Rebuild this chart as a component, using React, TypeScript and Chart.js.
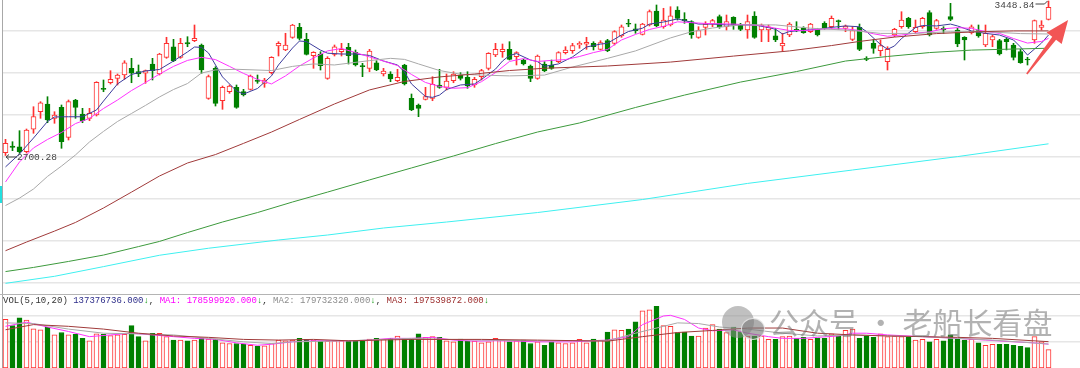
import React, { useEffect, useRef } from "react";
import { Chart, registerables } from "chart.js";

Chart.register(...registerables);

// ---------------- data ----------------
const openPrice = [
  2713.9, 2746.3, 2742.9, 2718.7, 2827.3, 2912.5, 2949.8, 2880.5, 2933.8, 2788.5,
  2969.2, 2901.4, 2880.5, 2896.5, 3025.9, 3053.0, 3074.3, 3090.3, 3122.8, 3106.3,
  3098.6, 3143.6, 3095.2, 3176.1, 3227.4, 3176.1, 3246.8, 3256.5, 3235.7, 2977.4,
  3122.8, 2965.8, 3009.4, 3030.7, 3009.4, 3021.0, 3066.1, 3050.1, 3101.5, 3230.8,
  3211.5, 3273.0, 3321.4, 3263.3, 3183.8, 3192.1, 3074.3, 3190.6, 3203.2, 3224.5,
  3200.3, 3135.4, 3122.8, 3149.9, 3095.2, 3095.2, 3062.7, 3138.8, 2977.4, 2945.0,
  2972.6, 2977.4, 3041.9, 3030.7, 3062.7, 3090.3, 3079.2, 3041.9, 3082.1, 3122.8,
  3187.2, 3203.2, 3214.8, 3179.0, 3163.0, 3133.9, 3074.3, 3143.6, 3138.8, 3154.8,
  3198.4, 3208.1, 3235.7, 3239.1, 3243.9, 3214.8, 3256.5, 3243.9, 3279.3, 3340.8,
  3314.6, 3287.5, 3332.6, 3400.4, 3324.3, 3332.6, 3405.3, 3360.2, 3348.6, 3273.0,
  3321.4, 3337.4, 3372.8, 3324.3, 3369.9, 3332.6, 3308.4, 3376.2, 3308.4, 3308.4,
  3280.7, 3230.8, 3284.1, 3311.7, 3316.6, 3300.1, 3311.7, 3340.8, 3324.3, 3353.4,
  3316.6, 3263.3, 3321.4, 3171.2, 3243.9, 3208.1, 3154.8, 3284.1, 3324.3, 3365.0,
  3300.1, 3324.3, 3392.2, 3316.6, 3316.6, 3372.8, 3308.4, 3273.0, 3295.3, 3305.0,
  3235.7, 3259.9, 3256.5, 3263.3, 3235.7, 3203.2, 3166.4, 3259.9, 3321.4, 3360.2,
];
const highPrice = [
  2778.8, 2767.2, 2820.5, 2828.7, 2936.7, 2961.0, 2985.2, 2912.5, 2945.0, 2969.2,
  2972.6, 2929.0, 2929.0, 3057.9, 3066.1, 3111.2, 3095.2, 3159.6, 3171.2, 3138.8,
  3114.5, 3171.2, 3195.5, 3273.0, 3263.3, 3268.1, 3275.9, 3332.6, 3240.5, 3090.3,
  3130.6, 3037.0, 3041.9, 3041.9, 3021.0, 3090.3, 3090.3, 3074.3, 3179.0, 3251.7,
  3292.4, 3336.0, 3340.8, 3292.4, 3203.2, 3203.2, 3179.0, 3235.7, 3243.9, 3243.9,
  3211.5, 3147.0, 3214.8, 3159.6, 3122.8, 3106.3, 3117.9, 3142.2, 2998.3, 2949.8,
  3030.7, 3082.1, 3117.9, 3095.2, 3106.3, 3101.5, 3106.3, 3079.2, 3117.9, 3198.4,
  3243.9, 3240.5, 3251.7, 3203.2, 3166.4, 3138.8, 3187.2, 3154.8, 3163.0, 3203.2,
  3227.4, 3243.9, 3251.7, 3273.0, 3251.7, 3256.5, 3263.3, 3305.0, 3332.6, 3360.2,
  3337.4, 3340.8, 3405.3, 3429.5, 3413.5, 3421.2, 3421.2, 3392.2, 3353.4, 3324.3,
  3348.6, 3360.2, 3381.0, 3381.0, 3372.8, 3340.8, 3381.0, 3397.0, 3337.4, 3332.6,
  3316.6, 3292.4, 3343.7, 3348.6, 3324.3, 3340.8, 3316.6, 3348.6, 3376.2, 3356.8,
  3332.6, 3324.3, 3337.4, 3179.0, 3263.3, 3259.9, 3227.4, 3316.6, 3397.0, 3369.9,
  3356.8, 3369.9, 3401.9, 3360.2, 3324.3, 3437.7, 3316.6, 3275.9, 3332.6, 3332.6,
  3332.6, 3284.1, 3263.3, 3268.1, 3243.9, 3214.8, 3176.1, 3356.8, 3353.4, 3448.84,
];
const lowPrice = [
  2700.28, 2723.6, 2711.0, 2712.4, 2807.9, 2880.5, 2859.2, 2856.3, 2735.2, 2775.4,
  2880.5, 2859.2, 2868.9, 2891.7, 3009.4, 3046.7, 3041.9, 3069.5, 3053.0, 3082.1,
  3050.1, 3066.1, 3090.3, 3171.2, 3154.8, 3171.2, 3227.4, 3251.7, 3098.6, 2972.6,
  2940.1, 2924.1, 3001.7, 2929.0, 2988.6, 3017.7, 3050.1, 3030.7, 3095.2, 3182.4,
  3208.1, 3268.1, 3259.9, 3187.2, 3122.8, 3114.5, 3069.5, 3182.4, 3182.4, 3143.6,
  3133.9, 3082.1, 3106.3, 3111.2, 3085.5, 3057.9, 3057.9, 3041.9, 2917.4, 2888.3,
  2969.2, 2965.8, 3025.9, 3017.7, 3053.0, 3066.1, 3025.9, 3030.7, 3066.1, 3114.5,
  3179.0, 3176.1, 3163.0, 3138.8, 3138.8, 3057.9, 3069.5, 3106.3, 3117.9, 3149.9,
  3192.1, 3195.5, 3219.7, 3214.8, 3211.5, 3211.5, 3203.2, 3235.7, 3273.0, 3324.3,
  3292.4, 3284.1, 3327.7, 3324.3, 3316.6, 3327.7, 3356.8, 3340.8, 3268.1, 3268.1,
  3284.1, 3324.3, 3316.6, 3308.4, 3311.7, 3305.0, 3268.1, 3268.1, 3251.7, 3251.7,
  3251.7, 3208.1, 3275.9, 3300.1, 3292.4, 3295.3, 3279.3, 3311.7, 3316.6, 3311.7,
  3300.1, 3256.5, 3208.1, 3159.6, 3195.5, 3182.4, 3114.5, 3275.9, 3316.6, 3316.6,
  3292.4, 3316.6, 3279.3, 3311.7, 3292.4, 3353.4, 3227.4, 3163.0, 3289.0, 3273.0,
  3227.4, 3227.4, 3187.2, 3211.5, 3163.0, 3147.0, 3138.8, 3243.9, 3308.4, 3356.8,
];
const closePrice = [
  2759.4, 2740.0, 2718.7, 2823.9, 2888.3, 2956.1, 2872.3, 2896.5, 2767.2, 2961.0,
  2933.8, 2868.9, 2904.8, 3054.9, 3021.0, 3069.5, 3090.3, 3149.9, 3098.6, 3095.2,
  3111.2, 3111.2, 3192.1, 3243.9, 3159.6, 3243.9, 3240.5, 3268.1, 3114.5, 3082.1,
  2953.2, 3030.7, 3037.0, 2933.8, 2993.4, 3085.5, 3059.8, 3066.1, 3176.1, 3243.9,
  3235.7, 3332.6, 3268.1, 3190.6, 3200.3, 3135.4, 3171.2, 3227.4, 3214.8, 3183.8,
  3138.8, 3130.6, 3206.6, 3114.5, 3109.7, 3070.9, 3079.2, 3046.7, 2920.8, 2929.0,
  2985.2, 3045.3, 3030.7, 3061.3, 3095.2, 3074.3, 3037.0, 3069.5, 3111.2, 3195.5,
  3214.8, 3214.8, 3166.4, 3198.4, 3143.6, 3074.3, 3182.4, 3109.7, 3122.8, 3198.4,
  3211.5, 3232.3, 3243.9, 3248.8, 3227.4, 3246.8, 3208.1, 3300.1, 3324.3, 3336.0,
  3305.0, 3337.4, 3397.0, 3327.7, 3356.8, 3377.6, 3365.0, 3353.4, 3284.1, 3305.0,
  3337.4, 3353.4, 3324.3, 3348.6, 3332.6, 3311.7, 3348.6, 3273.0, 3332.6, 3324.3,
  3259.9, 3243.9, 3337.4, 3305.0, 3295.3, 3337.4, 3284.1, 3316.6, 3365.0, 3348.6,
  3327.7, 3305.0, 3214.8, 3166.4, 3219.7, 3232.3, 3214.8, 3311.7, 3356.8, 3324.3,
  3321.4, 3365.0, 3284.1, 3353.4, 3308.4, 3360.2, 3240.5, 3259.9, 3324.3, 3279.3,
  3292.4, 3275.9, 3192.1, 3251.7, 3176.1, 3149.9, 3163.0, 3353.4, 3332.6, 3418.3,
];
// volume, millions of lots
const volume = [
  364.2, 317.8, 377.2, 359.1, 294.5, 286.8, 307.4, 248.0, 266.1, 248.0,
  253.2, 222.2, 204.1, 255.8, 253.2, 242.9, 248.0, 253.2, 317.8, 235.1,
  204.1, 260.9, 260.9, 235.1, 209.3, 209.3, 204.1, 209.3, 222.2, 217.0,
  217.0, 188.6, 183.5, 183.5, 178.3, 170.5, 162.8, 165.4, 183.5, 209.3,
  204.1, 209.3, 222.2, 214.5, 209.3, 201.5, 201.5, 204.1, 204.1, 204.1,
  204.1, 209.3, 217.0, 222.2, 214.5, 222.2, 240.3, 222.2, 214.5, 255.8,
  229.9, 235.1, 229.9, 204.1, 196.4, 217.0, 201.5, 201.5, 188.6, 196.4,
  222.2, 209.3, 196.4, 204.1, 209.3, 183.5, 196.4, 170.5, 196.4, 188.6,
  183.5, 188.6, 214.5, 188.6, 217.0, 209.3, 268.7, 286.8, 281.6, 291.9,
  346.2, 428.8, 436.6, 462.4, 317.8, 312.6, 266.1, 268.7, 240.3, 240.3,
  299.7, 325.5, 291.9, 266.1, 307.4, 273.8, 240.3, 240.3, 240.3, 214.5,
  214.5, 235.1, 240.3, 222.2, 229.9, 214.5, 222.2, 222.2, 255.8, 240.3,
  281.6, 291.9, 222.2, 240.3, 229.9, 255.8, 235.1, 240.3, 235.1, 229.9,
  209.3, 214.5, 196.4, 214.5, 204.1, 248.0, 214.5, 209.3, 214.5, 188.6,
  170.5, 178.3, 178.3, 178.3, 170.5, 162.8, 152.5, 235.1, 196.4, 137.4,
];

// moving-average lines, read at candle positions (index -> value)
const ma5At = [0,2,4,6,7,9,11,13,14,16,18,20,22,24,26,27,28,29,31,33,34,36,38,39,41,42,43,45,46,48,50,52,54,56,57,58,60,61,62,63,65,67,68,70,71,72,73,75,76,77,79,81,83,85,86,88,89,91,92,94,96,97,99,101,103,105,107,109,110,111,112,114,116,118,120,122,123,125,126,127,128,130,131,133,135,136,138,140,142,144,145,146,147,148,149];
const ma5 = [2645,2708,2785,2865,2887,2888,2888,2921,2964,3047,3093,3110,3117,3158,3202,3226,3224,3197,3081,3013,2998,3025,3086,3139,3221,3255,3252,3211,3196,3192,3192,3185,3158,3139,3105,3047,2986,2982,2993,3020,3042,3047,3069,3119,3158,3185,3194,3163,3155,3132,3144,3178,3226,3240,3244,3284,3301,3317,3337,3347,3362,3354,3337,3337,3333,3333,3333,3320,3312,3289,3301,3307,3311,3321,3328,3324,3301,3238,3215,3231,3267,3320,3330,3328,3337,3328,3304,3292,3284,3260,3226,3187,3216,3245,3284];
const ma10At = [0,2,4,6,8,10,12,14,16,18,20,22,24,26,28,30,32,34,36,38,40,42,44,46,48,50,52,54,56,58,60,62,64,66,68,70,72,74,76,78,80,82,84,86,88,90,92,94,96,98,100,104,108,110,112,114,117,120,122,124,126,128,130,132,134,136,138,140,142,144,146,148,149];
const ma10 = [2572,2669,2737,2778,2812,2855,2880,2928,2969,3015,3054,3095,3132,3161,3176,3165,3132,3098,3069,3047,3086,3134,3173,3207,3219,3199,3178,3158,3136,3093,3054,3035,3026,3029,3058,3102,3156,3170,3156,3161,3165,3180,3199,3214,3260,3287,3311,3326,3348,3344,3340,3337,3330,3317,3306,3305,3314,3314,3306,3290,3278,3284,3293,3299,3314,3320,3316,3301,3292,3267,3245,3253,3268];
const ma20At = [0,2,4,6,8,10,12,14,16,18,20,22,24,26,28,30,33,38,41,44,47,52,55,57,59,62,65,68,72,77,81,86,90,95,98,101,105,110,115,121,125,130,135,140,145,149];
const ma20 = [2458,2494,2538,2599,2649,2703,2766,2817,2865,2904,2943,2984,3020,3049,3100,3115,3118,3112,3132,3144,3139,3160,3171,3166,3144,3112,3094,3090,3086,3090,3129,3171,3207,3270,3300,3318,3333,3333,3317,3306,3292,3292,3300,3300,3291,3289];
const ma60At = [0,3,7,10,14,18,22,26,30,34,38,42,47,52,57,62,67,72,77,86,95,104,112,118,122,127,133,139,144,149];
const ma60 = [2239,2281,2334,2376,2446,2523,2601,2664,2705,2759,2814,2875,2950,3018,3059,3081,3095,3112,3123,3134,3153,3182,3207,3233,3253,3274,3291,3300,3304,3304];
const ma120At = [0,4,9,14,19,22,26,31,36,41,46,52,58,64,70,76,82,90,97,105,113,120,126,132,138,144,149];
const ma120 = [2138,2158,2187,2218,2259,2284,2327,2378,2424,2475,2523,2582,2640,2698,2758,2814,2858,2933,2993,3056,3107,3158,3180,3199,3211,3216,3220];
const ma250At = [0,7,14,22,29,39,46,54,63,76,91,106,121,136,149];
const ma250 = [2081,2115,2162,2217,2251,2291,2315,2349,2378,2424,2487,2565,2630,2695,2757];

const volMa5At = [0,3,6,9,12,15,18,21,24,27,30,33,36,38,41,44,47,50,52,55,58,61,64,67,70,73,76,81,86,89,91,94,95,97,99,101,104,106,109,111,114,116,119,121,123,126,131,136,140,144,147,149];
const volMa5 = [312.6,343.6,307.4,273.8,235.1,248.0,260.9,248.0,235.1,222.2,214.5,188.6,170.5,178.3,196.4,204.1,204.1,204.1,209.3,222.2,222.2,229.9,209.3,201.5,204.1,201.5,196.4,196.4,209.3,235.1,325.5,390.1,395.2,364.2,299.7,279.0,286.8,260.9,235.1,222.2,222.2,229.9,240.3,260.9,260.9,248.0,235.1,222.2,209.3,196.4,188.6,178.6];
const volMa10At = [0,4,9,14,19,24,29,34,38,41,49,58,63,68,76,86,90,94,96,99,102,106,111,116,121,126,131,136,141,149];
const volMa10 = [338.4,333.3,291.9,260.9,255.8,248.0,222.2,196.4,183.5,196.4,204.1,222.2,214.5,209.3,204.1,204.1,260.9,312.6,338.4,333.3,307.4,291.9,260.9,240.3,248.0,240.3,235.1,222.2,209.3,179.7];
const volMa20At = [0,4,9,14,19,24,29,34,39,44,49,58,68,76,86,91,96,101,106,111,116,121,126,131,136,141,149];
const volMa20 = [286.8,325.5,312.6,291.9,260.9,240.3,229.9,214.5,209.3,214.5,204.1,214.5,214.5,209.3,201.5,235.1,266.1,281.6,299.7,299.7,260.9,248.0,240.3,235.1,229.9,222.2,197.5];

// text
const lowLabel = "2700.28";
const highLabel = "3448.84";
const volHeader = [
  { t: "VOL(5,10,20) ", c: "#333333" },
  { t: "137376736.000", c: "#2e2e8a" },
  { t: "↓", c: "#119911" },
  { t: ", ", c: "#333333" },
  { t: "MA1: 178599920.000", c: "#ff00ff" },
  { t: "↓", c: "#119911" },
  { t: ", ", c: "#333333" },
  { t: "MA2: 179732320.000", c: "#8c8c8c" },
  { t: "↓", c: "#119911" },
  { t: ", ", c: "#333333" },
  { t: "MA3: 197539872.000", c: "#9b2c2c" },
  { t: "↓", c: "#119911" },
];
const watermarkText = "公众号 · 老船长看盘";

// axis set-up values
const priceGrid = [3303.5, 3100, 2896.5, 2693, 2489.5, 2286, 2082.5];
const volumeGrid = [197.5, 395];
const PRICE_MIN = 2029.3;
const PRICE_MAX = 3453.7;
const VOL_MAX = 555;
const EMPTY_SLOTS = 4;
// annotation arrow in data space (candle index, price)
const trendArrow = { fromIdx: 145.9, fromPrice: 3095, toIdx: 151.8, toPrice: 3357 };

// ---------------- styling ----------------
const UP = "#ff3030";
const DOWN = "#008000";
const C_MA5 = "#3c3c9c";
const C_MA10 = "#ff33ff";
const C_MA20 = "#a9a9a9";
const C_MA60 = "#a03a3a";
const C_MA120 = "#3d9a3d";
const C_MA250 = "#3ff0f0";

const n = openPrice.length;
const labels = Array.from({ length: n + EMPTY_SLOTS }, (_, i) => String(i));
const isUp = closePrice.map((c, i) => c >= openPrice[i]);
const pts = (at: number[], vals: number[]) => at.map((k, j) => ({ x: String(k), y: vals[j] }));

const lineDs = (label: string, data: any[], color: string) => ({
  type: "line" as const,
  label,
  data,
  borderColor: color,
  backgroundColor: color,
  borderWidth: 1,
  pointRadius: 0,
  tension: 0,
  fill: false,
  order: 0,
});

const baseX = { type: "category" as const, labels, offset: true, display: false };

const annotationPlugin = {
  id: "priceNotes",
  afterDatasetsDraw(chart: any) {
    const { ctx, scales } = chart;
    const x = scales.x;
    const y = scales.y;
    ctx.save();
    // lowest low label
    let li = 0;
    lowPrice.forEach((v, i) => { if (v < lowPrice[li]) li = i; });
    const lx = x.getPixelForValue(li) + 0.5;
    const ly = y.getPixelForValue(lowPrice[li]) + 1.5;
    ctx.strokeStyle = "#444";
    ctx.fillStyle = "#444";
    ctx.lineWidth = 1;
    ctx.beginPath();
    ctx.moveTo(lx, ly);
    ctx.lineTo(lx + 11, ly);
    ctx.moveTo(lx, ly);
    ctx.lineTo(lx + 3, ly - 2.5);
    ctx.moveTo(lx, ly);
    ctx.lineTo(lx + 3, ly + 2.5);
    ctx.stroke();
    ctx.font = "9.5px 'Liberation Mono'";
    ctx.textBaseline = "middle";
    ctx.textAlign = "left";
    ctx.fillText(lowLabel, lx + 11, ly + 0.5);
    // highest high label
    let hi = 0;
    highPrice.forEach((v, i) => { if (v > highPrice[hi]) hi = i; });
    const hx = x.getPixelForValue(hi);
    const hy = y.getPixelForValue(highPrice[hi]);
    ctx.textAlign = "right";
    ctx.textBaseline = "alphabetic";
    ctx.fillText(highLabel, hx - 14, hy + 6.5);
    ctx.beginPath();
    ctx.moveTo(hx - 13, hy + 3);
    ctx.lineTo(hx - 4, hy + 3);
    ctx.lineTo(hx - 1, hy);
    ctx.stroke();
    // red trend arrow
    const x0 = x.getPixelForValue(trendArrow.fromIdx);
    const y0 = y.getPixelForValue(trendArrow.fromPrice);
    const x1 = x.getPixelForValue(trendArrow.toIdx);
    const y1 = y.getPixelForValue(trendArrow.toPrice);
    const dx = x1 - x0, dy = y1 - y0;
    const len = Math.hypot(dx, dy);
    const ux = dx / len, uy = dy / len;
    const px = -uy, py = ux;
    const headLen = 23, headHalf = 9.5;
    const bx = x1 - ux * headLen, by = y1 - uy * headLen;
    const w0 = 0.8, w1 = 2.4;
    ctx.fillStyle = "#f25555";
    ctx.beginPath();
    ctx.moveTo(x0 + px * w0, y0 + py * w0);
    ctx.lineTo(bx + px * w1, by + py * w1);
    ctx.lineTo(bx + px * headHalf, by + py * headHalf);
    ctx.lineTo(x1, y1);
    ctx.lineTo(bx - px * headHalf, by - py * headHalf);
    ctx.lineTo(bx - px * w1, by - py * w1);
    ctx.lineTo(x0 - px * w0, y0 - py * w0);
    ctx.closePath();
    ctx.fill();
    ctx.restore();
  },
};

export default function App() {
  const priceRef = useRef<HTMLCanvasElement | null>(null);
  const volRef = useRef<HTMLCanvasElement | null>(null);

  useEffect(() => {
    const priceChart = new Chart(priceRef.current as HTMLCanvasElement, {
      type: "bar",
      data: {
        labels,
        datasets: [
          {
            type: "bar",
            label: "wick",
            data: lowPrice.map((l, i) => [l, highPrice[i]]),
            backgroundColor: isUp.map((u) => (u ? UP : DOWN)),
            borderWidth: 0,
            barThickness: 1,
            grouped: false,
            order: 2,
          } as any,
          {
            type: "bar",
            label: "body",
            data: openPrice.map((o, i) => [o, closePrice[i]]),
            backgroundColor: isUp.map((u) => (u ? "#ffffff" : DOWN)),
            borderColor: isUp.map((u) => (u ? UP : DOWN)),
            borderWidth: 1,
            borderSkipped: false,
            barThickness: 5,
            minBarLength: 1,
            grouped: false,
            order: 1,
          } as any,
          lineDs("MA250", pts(ma250At, ma250), C_MA250),
          lineDs("MA120", pts(ma120At, ma120), C_MA120),
          lineDs("MA60", pts(ma60At, ma60), C_MA60),
          lineDs("MA20", pts(ma20At, ma20), C_MA20),
          lineDs("MA10", pts(ma10At, ma10), C_MA10),
          lineDs("MA5", pts(ma5At, ma5), C_MA5),
        ] as any,
      },
      options: {
        animation: false,
        responsive: false,
        maintainAspectRatio: false,
        devicePixelRatio: 1,
        events: [],
        layout: { padding: 0 },
        plugins: { legend: { display: false }, tooltip: { enabled: false } },
        scales: {
          x: baseX,
          y: {
            min: PRICE_MIN,
            max: PRICE_MAX,
            afterFit: (s: any) => { s.width = 2; },
            afterBuildTicks: (s: any) => { s.ticks = priceGrid.map((v) => ({ value: v })); },
            ticks: { display: false },
            grid: { color: "#e6e6e6", lineWidth: 1.5, drawTicks: false },
            border: { display: true, color: "#a8a8a8", width: 1 },
          },
        } as any,
      },
      plugins: [annotationPlugin],
    });

    const volChart = new Chart(volRef.current as HTMLCanvasElement, {
      type: "bar",
      data: {
        labels,
        datasets: [
          {
            type: "bar",
            label: "VOL",
            data: volume,
            backgroundColor: isUp.map((u) => (u ? "#ffffff" : DOWN)),
            borderColor: isUp.map((u) => (u ? UP : DOWN)),
            borderWidth: 1,
            borderSkipped: false,
            barThickness: 5,
            grouped: false,
            order: 1,
          } as any,
          lineDs("VMA20", pts(volMa20At, volMa20), C_MA60),
          lineDs("VMA10", pts(volMa10At, volMa10), C_MA20),
          lineDs("VMA5", pts(volMa5At, volMa5), C_MA10),
        ] as any,
      },
      options: {
        animation: false,
        responsive: false,
        maintainAspectRatio: false,
        devicePixelRatio: 1,
        events: [],
        layout: { padding: 0 },
        plugins: { legend: { display: false }, tooltip: { enabled: false } },
        scales: {
          x: baseX,
          y: {
            min: 0,
            max: VOL_MAX,
            afterFit: (s: any) => { s.width = 2; },
            afterBuildTicks: (s: any) => { s.ticks = volumeGrid.map((v) => ({ value: v })); },
            ticks: { display: false },
            grid: { color: "#e6e6e6", lineWidth: 1.5, drawTicks: false },
            border: { display: true, color: "#a8a8a8", width: 1 },
          },
        } as any,
      },
    });

    return () => {
      priceChart.destroy();
      volChart.destroy();
    };
  }, []);

  return (
    <div
      style={{
        position: "absolute",
        left: 0,
        top: 0,
        width: 1080,
        height: 368,
        overflow: "hidden",
        background: "#ffffff",
      }}
    >
      <canvas ref={priceRef} width={1080} height={294} style={{ position: "absolute", left: 0, top: 0 }} />
      <div style={{ position: "absolute", left: 0, top: 186, width: 2, height: 17, background: "#22e0e0" }} />
      <canvas ref={volRef} width={1080} height={74} style={{ position: "absolute", left: 0, top: 294 }} />
      <div style={{ position: "absolute", left: 0, top: 294, width: 1080, height: 1, background: "#b4b4b4" }} />
      <div
        style={{
          position: "absolute",
          left: 3,
          top: 296,
          font: "9px 'Liberation Mono', monospace",
          lineHeight: "10px",
          whiteSpace: "pre",
        }}
      >
        {volHeader.map((p, i) => (
          <span key={i} style={{ color: p.c }}>{p.t}</span>
        ))}
      </div>
      <div style={{ position: "absolute", left: 722, top: 306, width: 32, height: 32, borderRadius: "50%", background: "rgba(140,140,140,0.55)" }} />
      <div style={{ position: "absolute", left: 741, top: 318, width: 22, height: 20, borderRadius: "50%", background: "rgba(120,120,120,0.6)", border: "1.5px solid rgba(255,255,255,0.7)" }} />
      <div
        style={{
          position: "absolute",
          left: 769,
          top: 305,
          font: "30px 'Noto Sans CJK SC', sans-serif",
          lineHeight: "33px",
          color: "rgba(115,115,115,0.55)",
          whiteSpace: "pre",
        }}
      >
        {watermarkText}
      </div>
    </div>
  );
}
